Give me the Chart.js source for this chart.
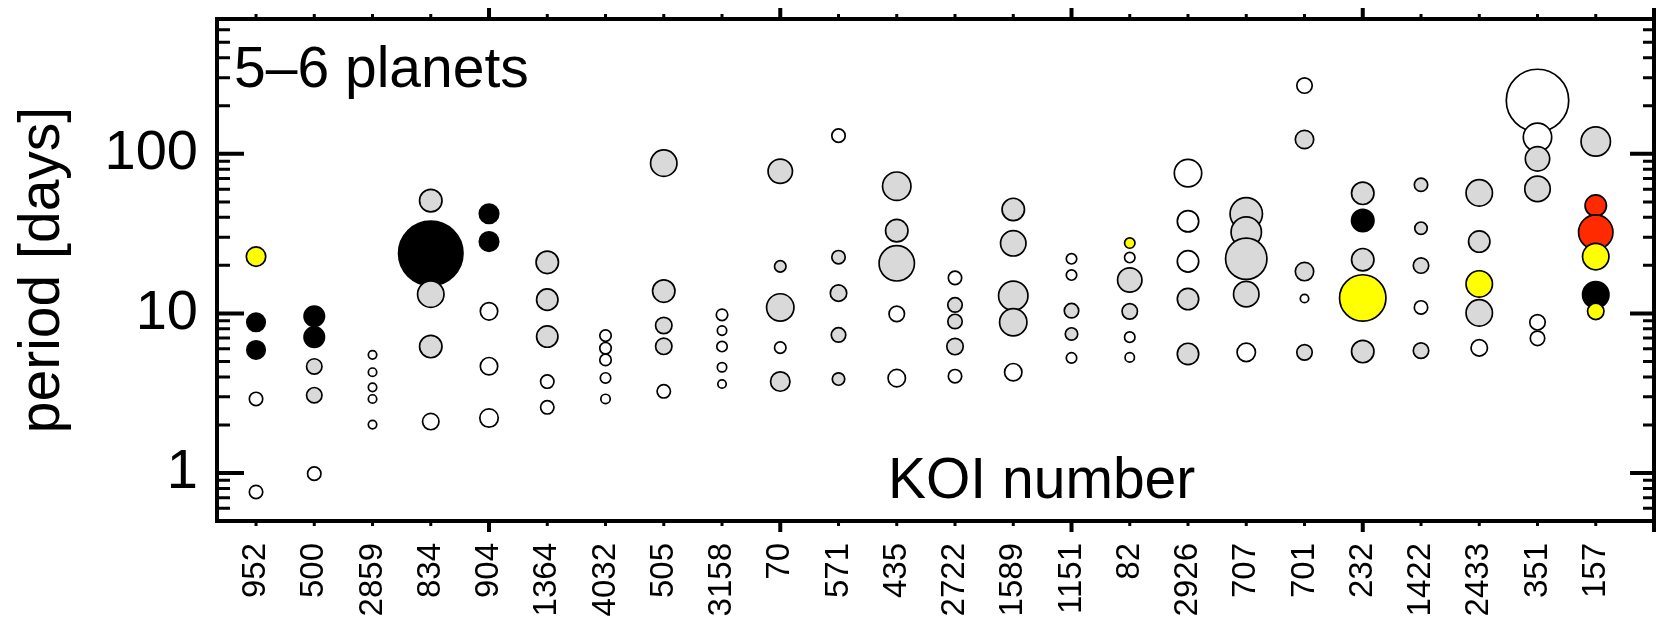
<!DOCTYPE html>
<html>
<head>
<meta charset="utf-8">
<title>KOI 5-6 planets</title>
<script src="https://cdn.jsdelivr.net/npm/chart.js@4.4.1/dist/chart.umd.min.js"></script>
<style>
  html, body { margin: 0; padding: 0; background: #fff; }
  canvas { display: block; }
</style>
</head>
<body>
<canvas id="koiChart" width="1664" height="620"></canvas>
<script>
// nomor KOI (kategori sumbu x)
const koiNumbers = ["952", "500", "2859", "834", "904", "1364", "4032", "505", "3158", "70", "571", "435",
  "2722", "1589", "1151", "82", "2926", "707", "701", "232", "1422", "2433", "351", "157"];

// periode orbit tiap planet [hari], urut dari luar ke dalam
const periods = [
  [22.7, 8.8, 5.9, 2.91, 0.76],
  [9.6, 7.1, 4.65, 3.07, 0.99],
  [5.5, 4.28, 3.44, 2.91, 2.01],
  [50.9, 23.8, 13.2, 6.2, 2.1],
  [42.1, 28.2, 10.3, 4.67, 2.21],
  [20.9, 12.2, 7.16, 3.74, 2.58],
  [7.26, 6.05, 5.11, 3.94, 2.91],
  [87.4, 13.8, 8.4, 6.22, 3.25],
  [9.8, 7.8, 6.2, 4.6, 3.61],
  [77.8, 19.7, 10.9, 6.1, 3.74],
  [130, 22.5, 13.4, 7.33, 3.88],
  [62.7, 33.0, 20.6, 9.93, 3.93],
  [16.7, 11.3, 8.9, 6.2, 4.04],
  [44.8, 27.5, 12.9, 8.8, 4.28],
  [22.0, 17.4, 10.4, 7.43, 5.26],
  [27.6, 22.4, 16.2, 10.3, 7.1, 5.3],
  [75.7, 37.8, 21.2, 12.3, 5.57],
  [42.1, 32.3, 22.0, 13.2, 5.7],
  [268, 123, 18.3, 12.4, 5.7],
  [56.6, 38.2, 21.7, 12.5, 5.77],
  [64, 34.2, 19.95, 10.9, 5.84],
  [56.9, 28.2, 15.3, 10.07, 6.08],
  [216, 127, 93, 60.3, 8.8, 6.98],
  [119.5, 47.4, 32.3, 22.7, 13.1, 10.3],
];

// jari-jari planet (perkiraan, R_bumi)
const planetRadii = [
  [1.62, 1.51, 1.51, 1.0, 1.0],
  [1.73, 1.73, 1.2, 1.2, 1.0],
  [0.56, 0.56, 0.56, 0.56, 0.56],
  [1.96, 8.3, 2.44, 1.96, 1.3],
  [1.62, 1.62, 1.4, 1.4, 1.51],
  [1.96, 1.84, 1.84, 1.0, 1.0],
  [0.82, 0.82, 0.82, 0.73, 0.64],
  [2.44, 1.96, 1.3, 1.3, 1.0],
  [0.82, 0.64, 0.73, 0.64, 0.56],
  [2.19, 0.82, 2.56, 0.82, 1.62],
  [1.0, 1.0, 1.3, 1.1, 0.91],
  [2.69, 1.96, 3.63, 1.2, 1.4],
  [1.0, 1.1, 1.1, 1.3, 1.0],
  [1.96, 2.32, 2.82, 2.56, 1.4],
  [0.73, 0.73, 1.1, 0.91, 0.73],
  [0.73, 0.73, 2.19, 1.2, 0.73, 0.64],
  [2.56, 1.84, 1.84, 1.84, 1.84],
  [3.22, 2.95, 4.5, 2.32, 1.51],
  [1.2, 1.51, 1.51, 0.56, 1.2],
  [1.96, 1.96, 1.96, 5.27, 1.96],
  [1.0, 0.91, 1.2, 1.0, 1.2],
  [2.44, 1.84, 2.44, 2.44, 1.3],
  [7.95, 2.69, 2.19, 2.32, 1.2, 1.1],
  [2.82, 1.84, 3.49, 2.44, 2.44, 1.3],
];

// kelas planet: w = putih, g = abu-abu, k = hitam, y = kuning, r = merah
const planetKinds = ["ykkww", "kkggw", "wwwww", "gkggw", "kkwww", "gggww", "wwwww", "ggggw",
  "wwwww", "gggwg", "wgggg", "gggww", "wgggw", "ggggw", "wwggw", "ywggww", "wwwgg", "ggggw",
  "wggwg", "gkgyg", "gggwg", "ggygw", "wwggww", "grryky"];

// label tick sumbu y
const yTickValues = [1, 10, 100];

const kindColors = { w: "#ffffff", g: "#d9d9d9", k: "#000000", y: "#ffff00", r: "#ff2a00" };
const fontFamily = '"Liberation Sans", Arial, sans-serif';

// ukuran gelembung dari jari-jari planet
function bubbleRadius(radius) {
  return 7.5 * Math.pow(radius, 0.7) - 0.8;
}

// plugin: bingkai, tick ke dalam/luar, dan teks di dalam plot
const frameAndText = {
  id: "frameAndText",
  afterDraw(chart) {
    const { ctx, chartArea: area, scales } = chart;
    const x = scales.x;
    const y = scales.y;
    ctx.save();
    ctx.strokeStyle = "#000";

    // tick x atas & bawah (keluar)
    for (let i = 1; i <= 25; i++) {
      const px = x.getPixelForValue(i);
      const major = i % 5 === 0;
      const len = major ? 11 : 5;
      ctx.lineWidth = major ? 4 : 3;
      ctx.beginPath();
      ctx.moveTo(px, area.top);
      ctx.lineTo(px, area.top - len);
      ctx.moveTo(px, area.bottom);
      ctx.lineTo(px, area.bottom + len);
      ctx.stroke();
    }

    // tick y kiri & kanan (ke dalam)
    for (let e = -1; e <= 2; e++) {
      for (let m = 1; m <= 9; m++) {
        const v = m * Math.pow(10, e);
        if (v < y.min || v > y.max) continue;
        const py = y.getPixelForValue(v);
        const major = m === 1;
        ctx.lineWidth = major ? 4 : 3;
        ctx.beginPath();
        ctx.moveTo(area.left, py);
        ctx.lineTo(area.left + (major ? 27 : 13), py);
        ctx.moveTo(area.right, py);
        ctx.lineTo(area.right - (major ? 24 : 11), py);
        ctx.stroke();
      }
    }

    ctx.lineWidth = 4;
    ctx.strokeRect(area.left, area.top, area.right - area.left, area.bottom - area.top);

    ctx.fillStyle = "#000";
    ctx.font = "57px " + fontFamily;
    ctx.textBaseline = "alphabetic";
    ctx.textAlign = "left";
    ctx.fillText("5–6 planets", area.left + 17, area.top + 68);
    ctx.fillText("KOI number", area.left + 671, area.bottom - 23);
    ctx.restore();
  },
};

document.addEventListener("DOMContentLoaded", function () {
  // susun titik gelembung per sistem
  const points = [];
  const colors = [];
  koiNumbers.forEach((koi, i) => {
    periods[i].forEach((p, j) => {
      points.push({ x: i + 1, y: p, r: bubbleRadius(planetRadii[i][j]) });
      colors.push(kindColors[planetKinds[i][j]]);
    });
  });

  const config = {
    type: "bubble",
    data: {
      datasets: [
        {
          label: "planets",
          data: points,
          backgroundColor: colors,
          borderColor: "#000000",
          borderWidth: 1.7,
        },
      ],
    },
    options: {
      responsive: false,
      animation: false,
      layout: { autoPadding: false, padding: { left: 0, top: 19, right: 10, bottom: 0 } },
      plugins: {
        legend: { display: false },
        tooltip: { enabled: false },
      },
      scales: {
        x: {
          type: "linear",
          min: 0.33,
          max: 25,
          grid: { display: false, drawTicks: false },
          border: { display: false },
          afterBuildTicks: (scale) => {
            scale.ticks = koiNumbers.map((_, i) => ({ value: i + 1 }));
          },
          afterFit: (scale) => {
            scale.height = 99;
            scale.paddingLeft = 0;
            scale.paddingRight = 0;
          },
          ticks: {
            autoSkip: false,
            minRotation: 90,
            maxRotation: 90,
            padding: 22,
            color: "#000",
            font: { family: fontFamily, size: 33 },
            callback: (value) => koiNumbers[value - 1],
          },
        },
        y: {
          type: "logarithmic",
          min: 0.5,
          max: 700,
          grid: { display: false, drawTicks: false },
          border: { display: false },
          afterBuildTicks: (scale) => {
            scale.ticks = yTickValues.map((v) => ({ value: v }));
          },
          afterFit: (scale) => {
            scale.width = 217;
            scale.paddingTop = 0;
            scale.paddingBottom = 0;
          },
          ticks: {
            padding: 19,
            color: "#000",
            font: { family: fontFamily, size: 56 },
            callback: (value) => String(value),
          },
          title: {
            display: true,
            text: "period [days]",
            color: "#000",
            font: { family: fontFamily, size: 57 },
            padding: { top: 9, bottom: 0 },
          },
        },
      },
    },
    plugins: [frameAndText],
  };

  new Chart(document.getElementById("koiChart"), config);
});
</script>
</body>
</html>
